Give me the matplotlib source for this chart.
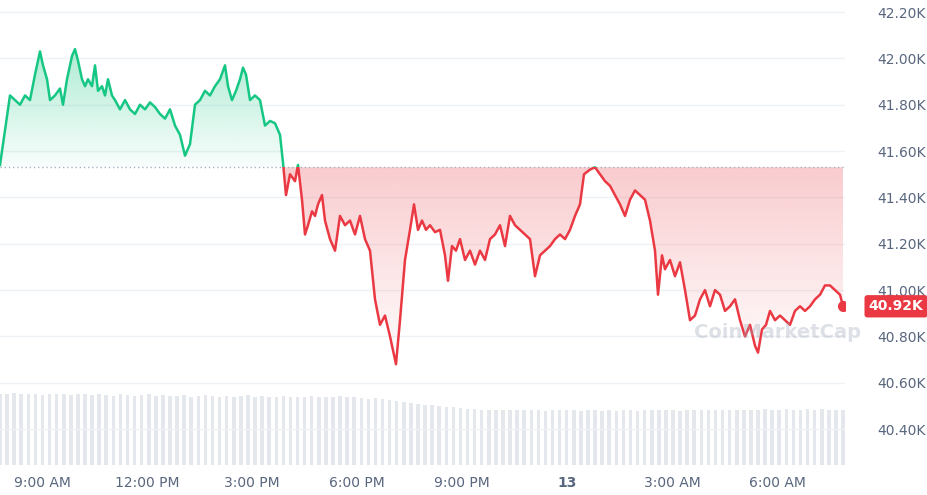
import numpy as np
import matplotlib
matplotlib.use("Agg")
import matplotlib.pyplot as plt
from matplotlib.path import Path
from matplotlib.patches import PathPatch, Rectangle

# sample times, in units of 12/7 minutes after 07:48
sample_t = [0,5,10,15,20,25,30,35,40,43,47,50,55,60,63,67,72,75,78,82,85,88,92,95,98,102,105,108,112,115,
120,125,130,135,140,145,150,155,160,165,170,175,180,185,190,195,200,205,210,215,220,225,228,232,236,240,243,246,250,255,
260,265,270,275,280,283,286,290,295,298,302,305,308,312,315,318,322,325,330,335,340,345,350,355,360,365,370,375,380,385,
390,396,400,405,410,414,418,422,426,430,435,440,445,448,452,456,460,465,470,475,480,485,490,495,500,505,510,515,520,525,
530,535,540,545,550,555,560,565,570,575,580,584,590,595,600,605,610,615,620,625,630,635,640,645,650,655,658,662,665,670,
675,680,685,690,695,700,705,710,715,720,725,730,735,740,745,750,755,758,762,766,770,775,780,785,790,795,800,805,810,815,
820,825,830,835,840,843]
prices = [41.54,41.69,41.84,41.82,41.80,41.84,41.82,41.93,42.03,41.97,41.91,41.82,41.84,41.87,41.80,41.91,42.01,42.04,41.99,41.91,
41.88,41.91,41.88,41.97,41.86,41.88,41.84,41.91,41.84,41.82,41.78,41.82,41.78,41.76,41.80,41.78,41.81,41.79,41.76,41.74,
41.78,41.71,41.67,41.58,41.63,41.80,41.82,41.86,41.84,41.88,41.91,41.97,41.88,41.82,41.86,41.91,41.96,41.93,41.82,41.84,
41.82,41.71,41.73,41.72,41.67,41.55,41.41,41.50,41.47,41.54,41.39,41.24,41.28,41.34,41.32,41.37,41.41,41.30,41.22,41.17,
41.32,41.28,41.30,41.24,41.32,41.22,41.17,40.96,40.85,40.89,40.80,40.68,40.87,41.13,41.26,41.37,41.26,41.30,41.26,41.28,
41.25,41.26,41.15,41.04,41.19,41.17,41.22,41.13,41.17,41.11,41.17,41.13,41.22,41.24,41.28,41.19,41.32,41.28,41.26,41.24,
41.22,41.06,41.15,41.17,41.19,41.22,41.24,41.22,41.26,41.32,41.37,41.50,41.52,41.53,41.50,41.47,41.45,41.41,41.37,41.32,
41.39,41.43,41.41,41.39,41.30,41.17,40.98,41.15,41.09,41.13,41.06,41.12,41.00,40.87,40.89,40.96,41.00,40.93,41.00,40.98,
40.91,40.93,40.96,40.87,40.80,40.85,40.76,40.73,40.83,40.85,40.91,40.87,40.89,40.87,40.85,40.91,40.93,40.91,40.93,40.96,
40.98,41.02,41.02,41.00,40.98,40.93]
volumes = [99,98,100,99,98,99,97,98,99,98,97,98,99,97,98,97,96,98,97,96,97,98,96,97,96,
96,97,95,96,97,96,95,96,95,96,97,95,96,95,94,96,95,94,95,96,95,94,95,96,94,
94,93,92,93,91,90,89,88,86,85,84,83,82,81,80,79,78,78,77,77,
77,76,77,76,76,77,76,75,76,76,77,76,75,76,76,75,76,75,76,76,75,76,76,77,76,76,75,76,76,77,
76,77,76,77,77,76,77,77,78,77,77,78,77,77,78,77,78,77,77,76]
baseline = 41.53
last_label = "40.92K"
tick_hours = [9, 12, 15, 18, 21, 24, 27, 30]
tick_labels = ["9:00 AM", "12:00 PM", "3:00 PM", "6:00 PM", "9:00 PM", "13", "3:00 AM", "6:00 AM"]
ytick_vals = [40.4, 40.6, 40.8, 41.0, 41.2, 41.4, 41.6, 41.8, 42.0, 42.2]

GREEN = "#16c784"; RED = "#ea3943"; GRAY = "#58667e"
p = np.array(prices)
h = 7.8 + np.array(sample_t) * (12/7) / 60.0
hv = np.linspace(h[0], h[-1], len(volumes))

fig = plt.figure(figsize=(9.28, 4.95), dpi=100)
ax = fig.add_axes([0.0, 30/495, 845/928, 465/495])
x0, x1 = 7.8, 7.8 + 845/35
y0, y1 = 40.245, 42.252
ax.set_xlim(x0, x1); ax.set_ylim(y0, y1)

axv = ax.twinx()
axv.set_xlim(x0, x1)
axv.set_ylim(0, 100*465/72)
axv.bar(hv, volumes, width=(hv[1]-hv[0])*0.5, color="#e4e7eb", linewidth=0, zorder=1)
axv.axis("off")
ax.set_zorder(axv.get_zorder()+1); ax.patch.set_visible(False)

for v in ytick_vals:
    ax.axhline(v, color="#eff2f5", lw=1, zorder=0)

def grad_fill(where, top, bot, color, a_top, a_bot):
    coll = ax.fill_between(h, p, baseline, where=where, interpolate=True, color="none", lw=0)
    paths = coll.get_paths()
    if not paths:
        return
    comp = Path.make_compound_path(*paths)
    patch = PathPatch(comp, transform=ax.transData, facecolor="none", edgecolor="none")
    ax.add_patch(patch)
    rgb = matplotlib.colors.to_rgb(color)
    n = 256
    img = np.zeros((n, 2, 4))
    img[:, :, :3] = rgb
    img[:, :, 3] = np.linspace(a_top, a_bot, n)[:, None]
    im = ax.imshow(img, extent=[x0, x1, bot, top], aspect="auto", origin="upper", zorder=2)
    im.set_clip_path(patch)

grad_fill(p >= baseline, 42.05, baseline, GREEN, 0.35, 0.03)
grad_fill(p <= baseline, baseline, 40.65, RED, 0.26, 0.0)

ax.plot([x0, x1], [baseline, baseline], ls=(0, (1, 2)), color="#a6b0c3", lw=1, zorder=3)

lg, = ax.plot(h, p, color=GREEN, lw=1.8, zorder=4)
lg.set_clip_path(Rectangle((x0, baseline), x1-x0, y1-baseline, transform=ax.transData))
lr, = ax.plot(h, p, color=RED, lw=1.8, zorder=4)
lr.set_clip_path(Rectangle((x0, y0), x1-x0, baseline-y0, transform=ax.transData))
ax.plot(h[-1], p[-1], "o", color=RED, ms=7, zorder=5)

ax.yaxis.tick_right()
ax.set_yticks(ytick_vals)
ax.set_yticklabels([f"{v:.2f}K" for v in ytick_vals])
ax.set_xticks(tick_hours)
ax.set_xticklabels(tick_labels)
for lab in ax.get_xticklabels():
    if lab.get_text() == "13":
        lab.set_fontweight("bold")
ax.tick_params(axis="y", length=0, pad=23, labelsize=10, labelcolor=GRAY)
ax.tick_params(axis="x", length=0, pad=8, labelsize=10, labelcolor=GRAY)
for s in ax.spines.values():
    s.set_visible(False)

ax.text(1.028, p[-1], last_label, transform=ax.get_yaxis_transform(), ha="left", va="center",
        color="white", fontsize=10, fontweight="bold",
        bbox=dict(boxstyle="round,pad=0.3,rounding_size=0.2", fc=RED, ec="none"), zorder=6)
ax.text(0.92, 0.285, "CoinMarketCap", transform=ax.transAxes, ha="center", va="center",
        fontsize=14, color="#a0a8b8", alpha=0.35, fontweight="bold", zorder=6)

fig.savefig("out.png", dpi=100)
